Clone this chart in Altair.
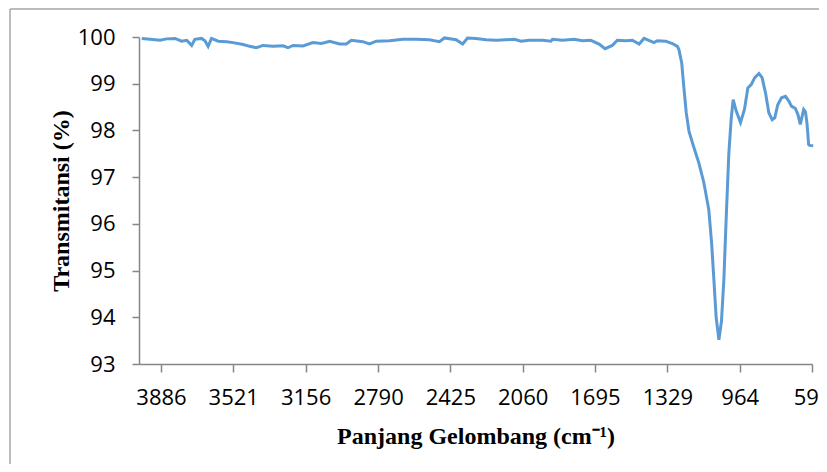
import altair as alt
import pandas as pd

# Wavenumber (cm^-1)
wavenumber = [
    3983, 3941, 3891, 3857, 3815, 3782, 3756, 3731, 3715, 3681,
    3664, 3648, 3631, 3597, 3555, 3522, 3471, 3438, 3404, 3371,
    3320, 3270, 3245, 3219, 3169, 3119, 3076, 3034, 2984, 2950,
    2925, 2867, 2833, 2799, 2732, 2665, 2598, 2531, 2480, 2455,
    2396, 2363, 2338, 2295, 2245, 2194, 2144, 2102, 2068, 2027,
    1959, 1917, 1909, 1859, 1800, 1758, 1716, 1674, 1644, 1607,
    1582, 1540, 1506, 1472, 1447, 1397, 1380, 1338, 1304, 1279,
    1271, 1257, 1246, 1234, 1220, 1195, 1170, 1145, 1120, 1106,
    1095, 1083, 1069, 1056, 1044, 1032, 1019, 1007, 997, 982,
    960, 940, 923, 906, 888, 867, 851, 834, 817, 800,
    787, 772, 753, 733, 716, 703, 683, 670, 658, 649,
    641, 632, 624, 616, 611, 593,
]

# Transmittance (%)
transmittance = [
    99.97, 99.95, 99.93, 99.96, 99.97, 99.91, 99.93, 99.82, 99.95, 99.97,
    99.92, 99.80, 99.97, 99.91, 99.90, 99.88, 99.84, 99.80, 99.77, 99.82,
    99.80, 99.81, 99.77, 99.82, 99.81, 99.88, 99.86, 99.91, 99.85, 99.85,
    99.93, 99.90, 99.85, 99.91, 99.92, 99.95, 99.95, 99.94, 99.90, 99.98,
    99.94, 99.85, 99.98, 99.97, 99.94, 99.93, 99.94, 99.95, 99.91, 99.93,
    99.93, 99.91, 99.95, 99.93, 99.95, 99.92, 99.93, 99.85, 99.75, 99.82,
    99.93, 99.92, 99.93, 99.85, 99.97, 99.88, 99.92, 99.91, 99.86, 99.80,
    99.73, 99.45, 98.92, 98.38, 97.98, 97.63, 97.30, 96.88, 96.30, 95.60,
    94.85, 94.00, 93.52, 93.92, 94.81, 96.15, 97.50, 98.25, 98.66, 98.42,
    98.17, 98.45, 98.91, 98.98, 99.13, 99.22, 99.13, 98.81, 98.38, 98.23,
    98.27, 98.55, 98.70, 98.73, 98.63, 98.52, 98.47, 98.34, 98.13, 98.30,
    98.45, 98.40, 98.14, 97.70, 97.68, 97.67,
]

x_ticks = [3886, 3521, 3156, 2790, 2425, 2060, 1695, 1329, 964, 599]
y_ticks = [93, 94, 95, 96, 97, 98, 99, 100]

df = pd.DataFrame({"wn": wavenumber, "t": transmittance})

AXIS_GRAY = "#868686"

line = alt.Chart(df).mark_line(color="#5B9BD5", strokeWidth=3, clip=False).encode(
    x=alt.X(
        "wn:Q",
        scale=alt.Scale(domain=[599, 3997], reverse=True, nice=False, zero=False),
        axis=alt.Axis(
            values=x_ticks,
            format="d",
            grid=False,
            labelFont="Open Sans",
            labelFontSize=22,
            labelColor="#000000",
            labelBaseline="alphabetic",
            labelPadding=32,
            labelFlush=False,
            labelOverlap=False,
            tickSize=8,
            tickColor=AXIS_GRAY,
            tickWidth=1.5,
            domainColor=AXIS_GRAY,
            domainWidth=1.5,
            title="Panjang Gelombang (cm⁻¹)",
            titleFont="Liberation Serif",
            titleFontWeight="bold",
            titleFontSize=24,
            titleColor="#000000",
            titleBaseline="alphabetic",
            titleAlign="center",
            titleX=336.5,
            titleY=79,
        ),
    ),
    y=alt.Y(
        "t:Q",
        scale=alt.Scale(domain=[93, 100], nice=False, zero=False),
        axis=alt.Axis(
            values=y_ticks,
            format="d",
            grid=False,
            labelFont="Open Sans",
            labelFontSize=22,
            labelColor="#000000",
            labelPadding=17,
            tickSize=7,
            tickColor=AXIS_GRAY,
            tickWidth=1.5,
            domainColor=AXIS_GRAY,
            domainWidth=1.5,
            title="Transmitansi (%)",
            titleFont="Liberation Serif",
            titleFontWeight="bold",
            titleFontSize=24,
            titleColor="#000000",
            titleAngle=270,
            titleBaseline="alphabetic",
            titleAlign="center",
            titleX=-71,
            titleY=163.5,
        ),
    ),
)

frame_df = pd.DataFrame({"k": [0]})
frame_left = alt.Chart(frame_df).mark_rule(color="#A6A6A6", strokeWidth=1.5, clip=False).encode(
    x=alt.value(-129), y=alt.value(-28), y2=alt.value(600)
)
frame_top = alt.Chart(frame_df).mark_rule(color="#A6A6A6", strokeWidth=1.5, clip=False).encode(
    x=alt.value(-129), x2=alt.value(900), y=alt.value(-28)
)

chart = alt.layer(frame_left, frame_top, line).properties(
    width=673,
    height=327,
    autosize=alt.AutoSizeParams(type="none"),
    padding={"left": 131, "top": 29, "right": 7, "bottom": 100},
).configure_view(strokeWidth=0)

chart.save("out.html", embed_options={"renderer": "svg", "actions": False})
